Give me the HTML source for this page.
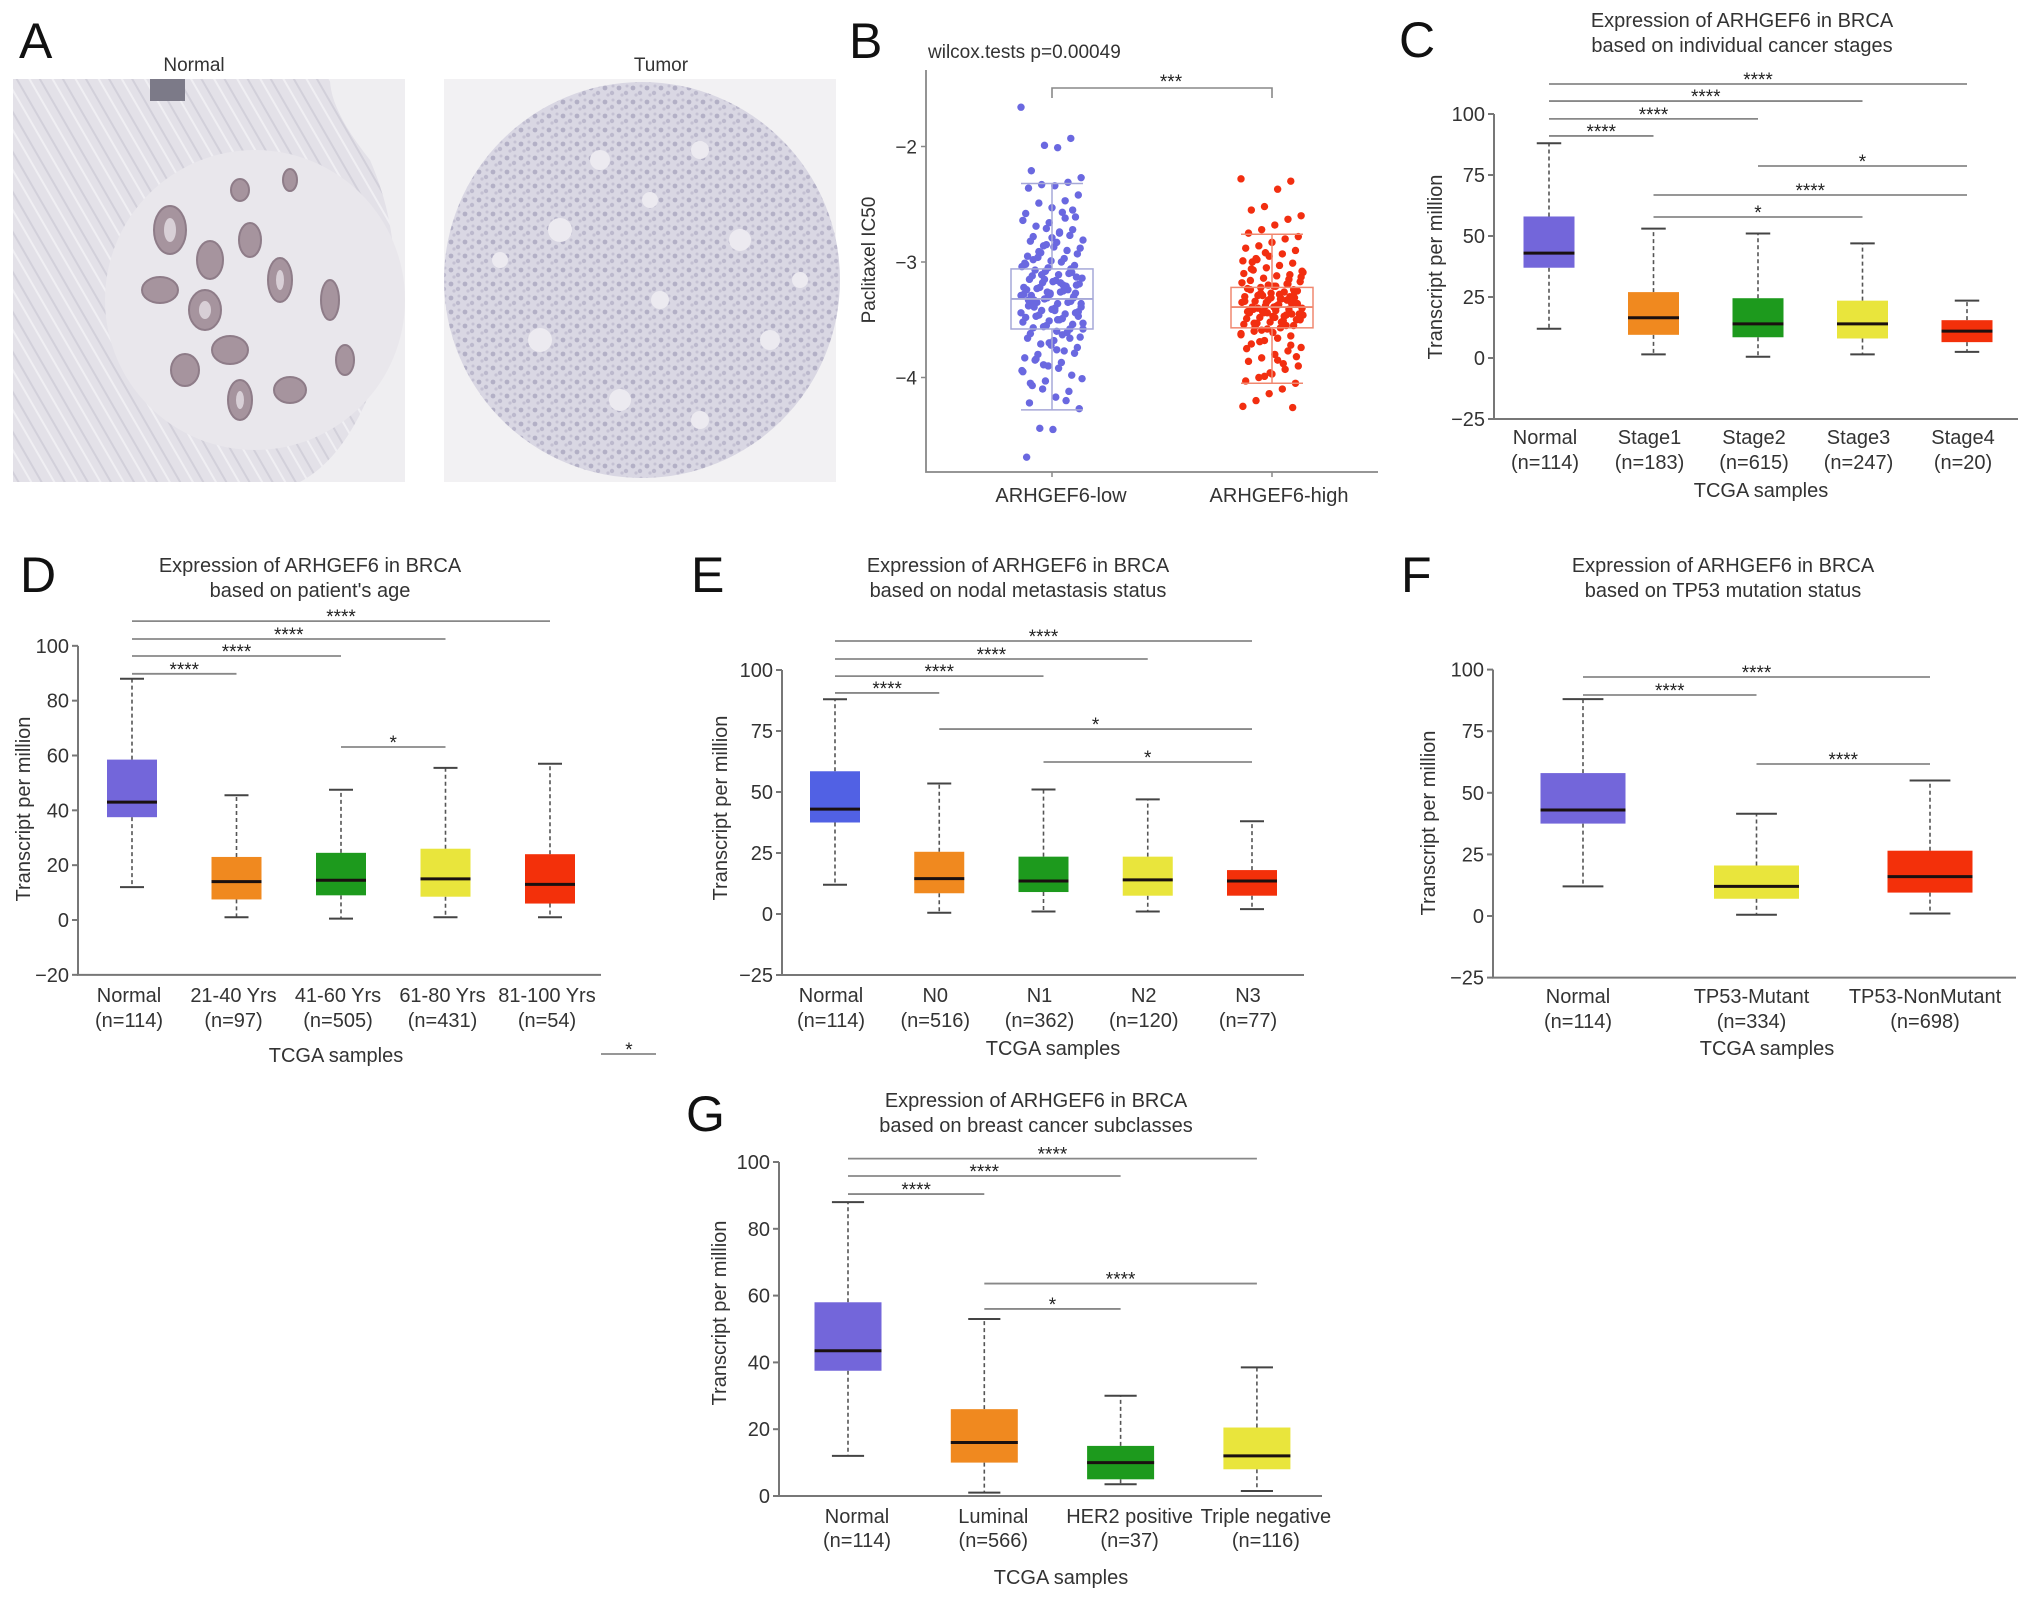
<!DOCTYPE html>
<html><head><meta charset="utf-8"><style>
html,body{margin:0;padding:0;background:#fff;}
svg{display:block;font-family:"Liberation Sans",Arial,sans-serif;}
</style></head><body>
<svg id="fig" width="2032" height="1597" viewBox="0 0 2032 1597" xmlns="http://www.w3.org/2000/svg">
<defs>
  <pattern id="cells" width="14" height="14" patternUnits="userSpaceOnUse">
    <rect width="14" height="14" fill="#d9d7e3"/>
    <circle cx="3" cy="4" r="2.4" fill="#b3b0c6"/>
    <circle cx="10" cy="9" r="2.2" fill="#bcb9cd"/>
    <circle cx="6" cy="11" r="1.6" fill="#c4c1d3"/>
    <circle cx="11" cy="2" r="1.5" fill="#c4c1d3"/>
  </pattern>
  <pattern id="fibers" width="20" height="20" patternUnits="userSpaceOnUse" patternTransform="rotate(60)">
    <rect width="20" height="20" fill="#e3e1e8"/>
    <line x1="0" y1="5" x2="20" y2="5" stroke="#d2d0da" stroke-width="2"/>
    <line x1="0" y1="14" x2="20" y2="14" stroke="#f0eff3" stroke-width="2"/>
  </pattern>
</defs>
<g>
  <text x="19" y="58" font-size="50" fill="#111">A</text>
  <text x="194" y="71" font-size="19" fill="#333" text-anchor="middle">Normal</text>
  <text x="661" y="71" font-size="19" fill="#333" text-anchor="middle">Tumor</text>
  <g>
    <rect x="13" y="79" width="392" height="403" fill="#efeef1"/>
    <path d="M13 79 H330 Q330 110 370 160 Q405 240 390 330 Q360 450 300 482 H13 Z" fill="url(#fibers)"/>
    <circle cx="255" cy="300" r="150" fill="#e9e7ec"/>
    <rect x="150" y="79" width="35" height="22" fill="#7c7a88"/>
    <g fill="#a6949e" stroke="#8e7c88" stroke-width="2">
      <ellipse cx="170" cy="230" rx="16" ry="24"/><ellipse cx="210" cy="260" rx="13" ry="19"/>
      <ellipse cx="160" cy="290" rx="18" ry="13"/><ellipse cx="205" cy="310" rx="16" ry="20"/>
      <ellipse cx="250" cy="240" rx="11" ry="17"/><ellipse cx="280" cy="280" rx="12" ry="22"/>
      <ellipse cx="230" cy="350" rx="18" ry="14"/><ellipse cx="185" cy="370" rx="14" ry="16"/>
      <ellipse cx="240" cy="400" rx="12" ry="20"/><ellipse cx="290" cy="390" rx="16" ry="13"/>
      <ellipse cx="330" cy="300" rx="9" ry="20"/><ellipse cx="345" cy="360" rx="9" ry="15"/>
      <ellipse cx="240" cy="190" rx="9" ry="11"/><ellipse cx="290" cy="180" rx="7" ry="11"/>
    </g>
    <g fill="#d8cfd6">
      <ellipse cx="170" cy="230" rx="6" ry="12"/><ellipse cx="205" cy="310" rx="6" ry="9"/>
      <ellipse cx="280" cy="280" rx="4" ry="10"/><ellipse cx="240" cy="400" rx="4" ry="9"/>
    </g>
  </g>
  <g>
    <rect x="444" y="79" width="392" height="403" fill="#f2f1f3"/>
    <circle cx="642" cy="280" r="198" fill="url(#cells)"/>
    <g fill="#eceaf0">
      <circle cx="600" cy="160" r="10"/><circle cx="700" cy="150" r="9"/><circle cx="560" cy="230" r="12"/>
      <circle cx="740" cy="240" r="11"/><circle cx="660" cy="300" r="9"/><circle cx="540" cy="340" r="12"/>
      <circle cx="770" cy="340" r="10"/><circle cx="620" cy="400" r="11"/><circle cx="700" cy="420" r="9"/>
      <circle cx="500" cy="260" r="8"/><circle cx="800" cy="280" r="8"/><circle cx="650" cy="200" r="8"/>
    </g>
  </g>
</g>
<g id="layer"></g>
</svg>
<script>
// ---------- Panel B data ----------
const B_groups = ["ARHGEF6-low","ARHGEF6-high"];
const B_ticks = [-2,-3,-4];
const B_min = [-4.28,-4.05];
const B_q1 = [-3.58,-3.57];
const B_med = [-3.32,-3.39];
const B_q3 = [-3.06,-3.22];
const B_max = [-2.32,-2.76];
const B_lowVals = [-1.66,-1.93,-2.01,-1.99,-2.21,-2.27,-2.31,-2.34,-2.33,-2.36,-2.42,-2.47,-2.53,-2.49,-2.58,-2.61,-2.57,-2.66,-2.69,-2.64,-2.72,-2.75,-2.71,-2.78,-2.81,-2.77,-2.83,-2.86,-2.82,-2.88,-2.9,-2.87,-2.92,-2.95,-2.93,-2.97,-2.99,-2.96,-3.01,-3.03,-3.0,-3.05,-3.07,-3.04,-3.09,-3.11,-3.08,-3.12,-3.14,-3.1,-3.16,-3.18,-3.15,-3.19,-3.21,-3.17,-3.22,-3.24,-3.2,-3.25,-3.27,-3.23,-3.28,-3.3,-3.26,-3.31,-3.33,-3.29,-3.34,-3.36,-3.32,-3.37,-3.39,-3.35,-3.4,-3.42,-3.38,-3.43,-3.45,-3.41,-3.46,-3.48,-3.44,-3.49,-3.51,-3.47,-3.52,-3.54,-3.5,-3.55,-3.57,-3.53,-3.58,-3.6,-3.56,-3.62,-3.65,-3.61,-3.68,-3.71,-3.66,-3.74,-3.77,-3.72,-3.8,-3.83,-3.79,-3.87,-3.9,-3.85,-3.94,-3.98,-3.92,-4.03,-4.07,-4.01,-4.12,-4.17,-4.1,-4.22,-4.27,-4.2,-4.45,-4.44,-4.69,-3.13,-3.2,-3.28,-3.35,-3.22,-3.31,-3.18,-3.26,-3.39,-3.44,-3.06,-3.5,-3.15,-3.29,-3.36,-3.24,-3.42,-3.11,-3.33,-3.47,-2.62,-2.79,-2.91,-3.02,-3.27,-3.63,-3.7,-3.84,-3.95,-2.55,-2.74,-2.85,-2.98,-3.58,-3.66,-3.76,-3.89,-4.05];
const B_highVals = [-2.28,-2.3,-2.37,-2.52,-2.55,-2.6,-2.63,-2.68,-2.72,-2.75,-2.78,-2.8,-2.83,-2.86,-2.88,-2.9,-2.93,-2.95,-2.97,-2.99,-3.01,-3.03,-3.05,-3.07,-3.09,-3.11,-3.12,-3.14,-3.16,-3.17,-3.19,-3.21,-3.22,-3.23,-3.25,-3.26,-3.27,-3.29,-3.3,-3.31,-3.32,-3.33,-3.34,-3.35,-3.36,-3.37,-3.38,-3.39,-3.4,-3.41,-3.42,-3.43,-3.44,-3.45,-3.46,-3.47,-3.48,-3.49,-3.5,-3.51,-3.52,-3.53,-3.54,-3.55,-3.57,-3.58,-3.6,-3.62,-3.64,-3.66,-3.68,-3.71,-3.74,-3.77,-3.8,-3.83,-3.86,-3.9,-3.93,-3.97,-4.0,-4.03,-4.05,-4.1,-4.14,-4.2,-4.25,-4.26,-3.28,-3.35,-3.41,-3.46,-3.3,-3.38,-3.44,-3.24,-3.5,-3.33,-3.39,-3.27,-3.43,-3.36,-3.47,-3.31,-3.4,-3.34,-3.26,-3.52,-3.2,-3.56,-3.18,-3.45,-3.37,-2.92,-3.0,-3.08,-3.15,-3.21,-3.29,-3.42,-3.49,-3.55,-3.61,-3.69,-3.75,-3.82,-3.88,-3.96,-2.98,-3.1,-3.24,-3.32,-3.44,-3.53,-3.63,-3.72,-3.85,-3.99,-3.06,-3.13,-3.19,-3.48,-3.59];

// ---------- Panel C data ----------
const C_cats = ["Normal","Stage1","Stage2","Stage3","Stage4"];
const C_ns = ["(n=114)","(n=183)","(n=615)","(n=247)","(n=20)"];
const C_ticks = [100,75,50,25,0,-25];
const C_min = [12,1.5,0.5,1.5,2.5];
const C_q1 = [37,9.5,8.5,8,6.5];
const C_med = [43,16.5,14,14,11];
const C_q3 = [58,27,24.5,23.5,15.5];
const C_max = [88,53,51,47,23.5];
const C_sigFrom = [0,0,0,0,2,1,1];
const C_sigTo = [4,3,2,1,4,4,3];
const C_sigLevel = [112.3,105.3,98,91,78.7,66.8,57.8];
const C_sigLabel = ["****","****","****","****","*","****","*"];

// ---------- Panel D data ----------
const D_cats = ["Normal","21-40 Yrs","41-60 Yrs","61-80 Yrs","81-100 Yrs"];
const D_ns = ["(n=114)","(n=97)","(n=505)","(n=431)","(n=54)"];
const D_ticks = [100,80,60,40,20,0,-20];
const D_min = [12,1,0.5,1,1];
const D_q1 = [37.5,7.5,9,8.5,6];
const D_med = [43,14,14.5,15,13];
const D_q3 = [58.5,23,24.5,26,24];
const D_max = [88,45.5,47.5,55.5,57];
const D_sigFrom = [0,0,0,0,2];
const D_sigTo = [4,3,2,1,3];
const D_sigLevel = [109,102.5,96.3,89.8,63.1];
const D_sigLabel = ["****","****","****","****","*"];

// ---------- Panel E data ----------
const E_cats = ["Normal","N0","N1","N2","N3"];
const E_ns = ["(n=114)","(n=516)","(n=362)","(n=120)","(n=77)"];
const E_ticks = [100,75,50,25,0,-25];
const E_min = [12,0.5,1,1,2];
const E_q1 = [37.5,8.5,9,7.5,7.5];
const E_med = [43,14.5,13.5,14,13.5];
const E_q3 = [58.5,25.5,23.5,23.5,18];
const E_max = [88,53.5,51,47,38];
const E_sigFrom = [0,0,0,0,1,2];
const E_sigTo = [4,3,2,1,4,4];
const E_sigLevel = [111.9,104.5,97.5,90.6,75.8,62.3];
const E_sigLabel = ["****","****","****","****","*","*"];

// ---------- Panel F data ----------
const F_cats = ["Normal","TP53-Mutant","TP53-NonMutant"];
const F_ns = ["(n=114)","(n=334)","(n=698)"];
const F_ticks = [100,75,50,25,0,-25];
const F_min = [12,0.5,1];
const F_q1 = [37.5,7,9.5];
const F_med = [43,12,16];
const F_q3 = [58,20.5,26.5];
const F_max = [88,41.5,55];
const F_sigFrom = [0,0,1];
const F_sigTo = [2,1,2];
const F_sigLevel = [97,89.7,61.7];
const F_sigLabel = ["****","****","****"];

// ---------- Panel G data ----------
const G_cats = ["Normal","Luminal","HER2 positive","Triple negative"];
const G_ns = ["(n=114)","(n=566)","(n=37)","(n=116)"];
const G_ticks = [100,80,60,40,20,0];
const G_min = [12,1,3.5,1.5];
const G_q1 = [37.5,10,5,8];
const G_med = [43.5,16,10,12];
const G_q3 = [58,26,15,20.5];
const G_max = [88,53,30,38.5];
const G_sigFrom = [0,0,0,1,1];
const G_sigTo = [3,2,1,3,2];
const G_sigLevel = [101,95.8,90.4,63.6,56];
const G_sigLabel = ["****","****","****","****","*"];

const NS='http://www.w3.org/2000/svg';
const layer=document.getElementById('layer');
function mk(tag,attrs,parent){const e=document.createElementNS(NS,tag);for(const k in attrs)e.setAttribute(k,attrs[k]);(parent||layer).appendChild(e);return e;}
function txt(s,attrs,parent){const e=mk('text',attrs,parent);e.textContent=s;return e;}
const COLS5=['#7366da','#f0891f','#1d9a1d','#e9e53c','#f3300a'];

function boxPanel(p){
  const g=mk('g',{});
  
  
  const y=v=>p.zero - v*p.ppu;
  const x=i=>p.x0 + i*p.step;
  const L=txt(p.letter,{x:p.lx,y:p.ly,'font-size':50,fill:'#111'},g);
  
  
  p.title.forEach((t,k)=>{
    const e=txt(t,{x:p.tx,y:p.ty+k*25,'font-size':20,fill:'#333','text-anchor':'middle'},g);
    
    
  });
  const yMin=p.ticks[p.ticks.length-1];
  const ax=mk('path',{d:`M${p.ax} ${y(p.ticks[0])} V${y(yMin)} H${p.axEnd}`,stroke:'#777','stroke-width':2,fill:'none'},g);
  
  
  p.ticks.forEach(t=>{
    const tk=mk('line',{x1:p.ax-6,x2:p.ax,y1:y(t),y2:y(t),stroke:'#777','stroke-width':2},g);
    
    
    const tl=txt(t<0?'\u2212'+(-t):String(t),{x:p.ax-9,y:y(t)+7,'font-size':20,fill:'#333','text-anchor':'end'},g);
    
    
  });
  const yt=txt('Transcript per million',{x:p.ytx,y:p.yty,'font-size':20,fill:'#333','text-anchor':'middle',transform:`rotate(-90 ${p.ytx} ${p.yty})`},g);
  
  
  const xt=txt('TCGA samples',{x:p.xtx,y:p.xty,'font-size':20,fill:'#333','text-anchor':'middle'},g);
  
  
  p.cats.forEach((c,i)=>{
    const cx=x(i), w=p.bw, cw=p.bw*0.48;
    const wh=mk('path',{d:`M${cx} ${y(p.q3[i])} V${y(p.max[i])} M${cx} ${y(p.q1[i])} V${y(p.min[i])}`,stroke:'#555','stroke-width':1.6,'stroke-dasharray':'4 3',fill:'none'},g);
    
    
    const cp=mk('path',{d:`M${cx-cw/2} ${y(p.max[i])} H${cx+cw/2} M${cx-cw/2} ${y(p.min[i])} H${cx+cw/2}`,stroke:'#444','stroke-width':2,fill:'none'},g);
    
    
    const bx=mk('rect',{x:cx-w/2,y:y(p.q3[i]),width:w,height:y(p.q1[i])-y(p.q3[i]),fill:p.colors[i]},g);
    
    
    const md=mk('line',{x1:cx-w/2,x2:cx+w/2,y1:y(p.med[i]),y2:y(p.med[i]),stroke:'#1a1010','stroke-width':3},g);
    
    
    const c1=txt(c,{x:cx+p.lo,y:p.r1,'font-size':20,fill:'#333','text-anchor':'middle'},g);
    
    
    const c2=txt(p.ns[i],{x:cx+p.lo,y:p.r2,'font-size':20,fill:'#333','text-anchor':'middle'},g);
    
    
  });
  p.sigFrom.forEach((f,k)=>{
    const yy=y(p.sigLevel[k]), x1=x(f), x2=x(p.sigTo[k]);
    const sl=mk('line',{x1:x1,x2:x2,y1:yy,y2:yy,stroke:'#888','stroke-width':1.8},g);
    
    
    const st=txt(p.sigLabel[k],{x:(x1+x2)/2,y:yy+2,'font-size':19,fill:'#222','text-anchor':'middle'},g);
    
    
  });
  return g;
}

boxPanel({name:'panel-c',letter:'C',lx:1399,ly:57,title:['Expression of ARHGEF6 in BRCA','based on individual cancer stages'],tx:1742,ty:27,
  ax:1494,axEnd:2018,zero:358,ppu:2.44,x0:1549,step:104.5,bw:51,lo:-4,r1:444,r2:469,xtx:1761,xty:497,ytx:1442,yty:267,
  ticks:C_ticks,cats:C_cats,ns:C_ns,min:C_min,q1:C_q1,med:C_med,q3:C_q3,max:C_max,sigFrom:C_sigFrom,sigTo:C_sigTo,sigLevel:C_sigLevel,sigLabel:C_sigLabel,colors:COLS5});
const gD=boxPanel({name:'panel-d',letter:'D',lx:20,ly:592,title:['Expression of ARHGEF6 in BRCA',"based on patient's age"],tx:310,ty:572,
  ax:78,axEnd:601,zero:920,ppu:2.7417,x0:132,step:104.5,bw:50,lo:-3,r1:1002,r2:1027,xtx:336,xty:1062,ytx:30,yty:809,
  ticks:D_ticks,cats:D_cats,ns:D_ns,min:D_min,q1:D_q1,med:D_med,q3:D_q3,max:D_max,sigFrom:D_sigFrom,sigTo:D_sigTo,sigLevel:D_sigLevel,sigLabel:D_sigLabel,colors:COLS5});
boxPanel({name:'panel-e',letter:'E',lx:691,ly:592,title:['Expression of ARHGEF6 in BRCA','based on nodal metastasis status'],tx:1018,ty:572,
  ax:782,axEnd:1304,zero:914,ppu:2.44,x0:835,step:104.25,bw:50,lo:-4,r1:1002,r2:1027,xtx:1053,xty:1055,ytx:727,yty:808,
  ticks:E_ticks,cats:E_cats,ns:E_ns,min:E_min,q1:E_q1,med:E_med,q3:E_q3,max:E_max,sigFrom:E_sigFrom,sigTo:E_sigTo,sigLevel:E_sigLevel,sigLabel:E_sigLabel,colors:['#5161e4','#f0891f','#1d9a1d','#e9e53c','#f3300a']});
boxPanel({name:'panel-f',letter:'F',lx:1401,ly:592,title:['Expression of ARHGEF6 in BRCA','based on TP53 mutation status'],tx:1723,ty:572,
  ax:1493,axEnd:2016,zero:916,ppu:2.464,x0:1583,step:173.5,bw:85,lo:-5,r1:1003,r2:1028,xtx:1767,xty:1055,ytx:1435,yty:823,
  ticks:F_ticks,cats:F_cats,ns:F_ns,min:F_min,q1:F_q1,med:F_med,q3:F_q3,max:F_max,sigFrom:F_sigFrom,sigTo:F_sigTo,sigLevel:F_sigLevel,sigLabel:F_sigLabel,colors:['#7366da','#e9e53c','#f3300a']});
boxPanel({name:'panel-g',letter:'G',lx:686,ly:1131,title:['Expression of ARHGEF6 in BRCA','based on breast cancer subclasses'],tx:1036,ty:1107,
  ax:779,axEnd:1322,zero:1496,ppu:3.34,x0:848,step:136.3,bw:67,lo:9,r1:1523,r2:1547,xtx:1061,xty:1584,ytx:726,yty:1313,
  ticks:G_ticks,cats:G_cats,ns:G_ns,min:G_min,q1:G_q1,med:G_med,q3:G_q3,max:G_max,sigFrom:G_sigFrom,sigTo:G_sigTo,sigLevel:G_sigLevel,sigLabel:G_sigLabel,colors:['#7366da','#f0891f','#1d9a1d','#e9e53c']});

// stray annotation in panel D area
const strayL=mk('line',{x1:601,x2:656,y1:1054,y2:1054,stroke:'#888','stroke-width':1.8},gD);


const strayS=txt('*',{x:629,y:1056,'font-size':19,fill:'#222','text-anchor':'middle'},gD);



// ---------- Panel B drawing ----------
(function(){
  const g=mk('g',{});
  
  
  const y=v=>262 - (v+3)*115.5;
  const xc=[1052,1272];
  const L=txt('B',{x:849,y:58,'font-size':50,fill:'#111'},g);
  
  
  const t=txt('wilcox.tests p=0.00049',{x:928,y:58,'font-size':19,fill:'#333'},g);
  
  
  const ax=mk('path',{d:'M926 70 V472 H1378',stroke:'#888','stroke-width':1.8,fill:'none'},g);
  
  
  B_ticks.forEach(v=>{
    const tk=mk('line',{x1:921,x2:926,y1:y(v),y2:y(v),stroke:'#888','stroke-width':1.5},g);
    
    
    const tl=txt('\u2212'+(-v),{x:917,y:y(v)+7,'font-size':19,fill:'#333','text-anchor':'end'},g);
    
    
  });
  const yt=txt('Paclitaxel IC50',{x:875,y:260,'font-size':19,fill:'#333','text-anchor':'middle',transform:'rotate(-90 875 260)'},g);
  
  
  const sets=[B_lowVals,B_highVals], cols=['#6a68e0','#f22e10'], outl=['#a6a8d8','#f08870'];
  sets.forEach((vals,gi)=>{
    vals.forEach((v,i)=>{
      const jx=(((i*53)%67)/66-0.5)*62;
      const d=mk('circle',{cx:xc[gi]+jx,cy:y(v),r:3.7,fill:cols[gi]},g);
      
      
    });
    const cx=xc[gi];
    const bx=mk('rect',{x:cx-41,y:y(B_q3[gi]),width:82,height:y(B_q1[gi])-y(B_q3[gi]),fill:'none',stroke:outl[gi],'stroke-width':1.5},g);
    
    
    const md=mk('line',{x1:cx-41,x2:cx+41,y1:y(B_med[gi]),y2:y(B_med[gi]),stroke:outl[gi],'stroke-width':1.8},g);
    
    
    const wk=mk('path',{d:`M${cx} ${y(B_q3[gi])} V${y(B_max[gi])} M${cx-31} ${y(B_max[gi])} H${cx+31} M${cx} ${y(B_q1[gi])} V${y(B_min[gi])} M${cx-31} ${y(B_min[gi])} H${cx+31}`,stroke:outl[gi],'stroke-width':1.5,fill:'none'},g);
    
    
    const xl=txt(B_groups[gi],{x:cx+(gi?7:9),y:502,'font-size':20,fill:'#333','text-anchor':'middle'},g);
    
    
    const xt=mk('line',{x1:cx,x2:cx,y1:472,y2:477,stroke:'#888','stroke-width':1.5},g);
    
    
  });
  const br=mk('path',{d:`M${xc[0]} 98 V88 H${xc[1]} V98`,stroke:'#888','stroke-width':1.6,fill:'none'},g);
  
  
  const st=txt('***',{x:1171,y:88,'font-size':19,fill:'#222','text-anchor':'middle'},g);
  
  
})();
</script>
</body></html>
